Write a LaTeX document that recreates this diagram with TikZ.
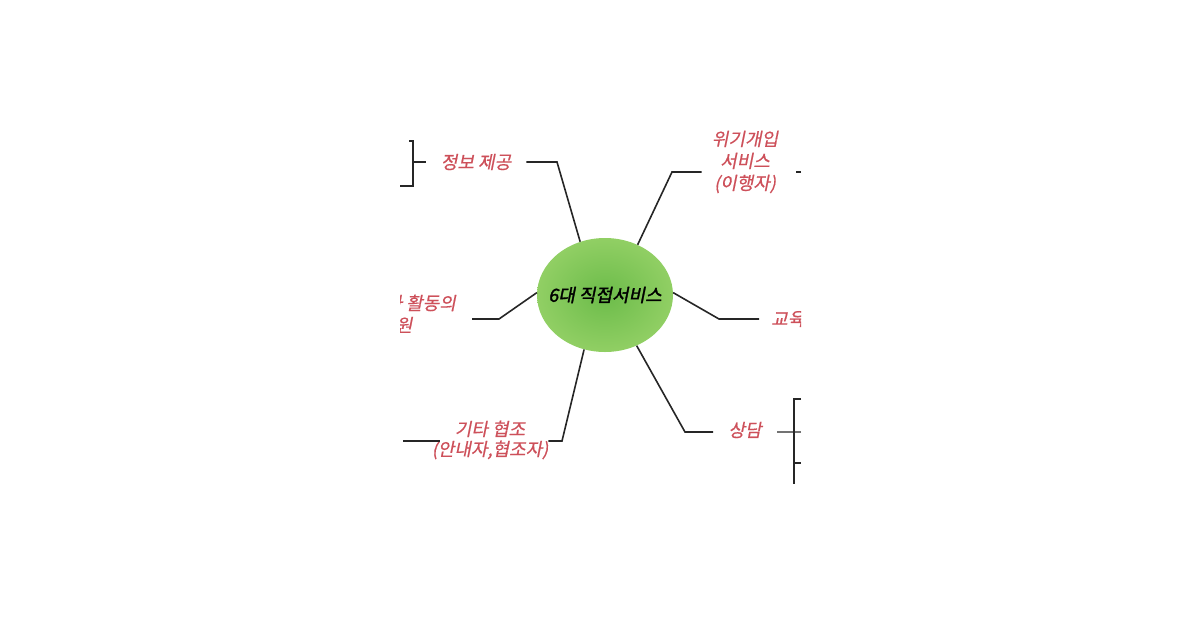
\documentclass[tikz,border=0pt]{standalone}
\usepackage{fontspec}
\newfontfamily\kr[FakeSlant=0.2,FakeBold=0.6]{Noto Sans CJK KR}
\newfontfamily\krb[FakeSlant=0.2,FakeBold=1.8]{Noto Sans CJK KR}
\usetikzlibrary{shapes.geometric}
\definecolor{lblred}{RGB}{205,80,90}
\definecolor{blobout}{RGB}{145,207,100}
\definecolor{blobin}{RGB}{108,188,74}
\begin{document}
\begin{tikzpicture}[x=1pt,y=-1pt,
  lbl/.style={text=lblred, font=\kr\fontsize{18}{22}\selectfont, align=center, inner xsep=15pt, inner ysep=0pt},
  wire/.style={line width=1.6pt, black!85}]
\useasboundingbox (0,0) rectangle (1200,630);
\clip (400,0) rectangle (801,630);
\node[ellipse, minimum width=136, minimum height=114, inner sep=0pt, inner color=blobin, outer color=blobout] (svc) at (605,295){};
\node[font=\krb\fontsize{18}{20}\selectfont] (svctxt) at (svc.center){6대 직접서비스};
\node[lbl] (info) at (476,162){정보 제공};
\coordinate (infoj) at (557,162);
\draw[wire] (svc.115) -- (infoj) -- (info.east);
\coordinate (infob1) at (409,141);
\coordinate (infob2) at (400,186);
\draw[wire] (infob1) -- (413,141) -- (413,186) -- (infob2);
\draw[wire] (413,162) -- (info.west);
\node[lbl, inner xsep=10pt] (crisis) at (745,162){위기개입\\서비스\\(이행자)};
\coordinate (crisisj) at (672,172);
\draw[wire] (svc.57) -- (crisisj) -- (crisisj -| crisis.west);
\coordinate (crisisr) at (801,172);
\draw[wire] (crisisr) -- ++(-5,0);
\node[lbl, anchor=east, inner xsep=16pt] (vol) at (472,314){자원봉사 활동의\\지원};
\coordinate (volj) at (499,319);
\draw[wire] (svc.178) -- (volj) -- (volj -| vol.east);
\node[lbl, anchor=west, inner xsep=12pt] (edu) at (759,319){교육};
\coordinate (eduj) at (719,319);
\draw[wire] (svc.2) -- (eduj) -- (edu.west);
\node[lbl] (consult) at (745,430){상담};
\coordinate (consultj) at (685,432);
\draw[wire] (svc.302) -- (consultj) -- (consultj -| consult.west);
\coordinate (consultr) at (801,432);
\draw[wire, black!55] (consultr) -- (consultr -| consult.east);
\draw[wire] (801,399) -- (794,399) -- (794,484);
\draw[wire] (794,463) -- (801,463);
\node[lbl, inner xsep=0pt, font=\kr\fontsize{18}{20}\selectfont] (etc) at (490,440){기타 협조\\(안내자,협조자)};
\coordinate (etcj) at (562,441);
\draw[wire] (svc.249) -- (etcj) -- (etcj -| etc.east);
\coordinate (etcl) at (403,441);
\draw[wire] (etcl) -- ([xshift=8pt]etcl -| etc.west);
\end{tikzpicture}
\end{document}
